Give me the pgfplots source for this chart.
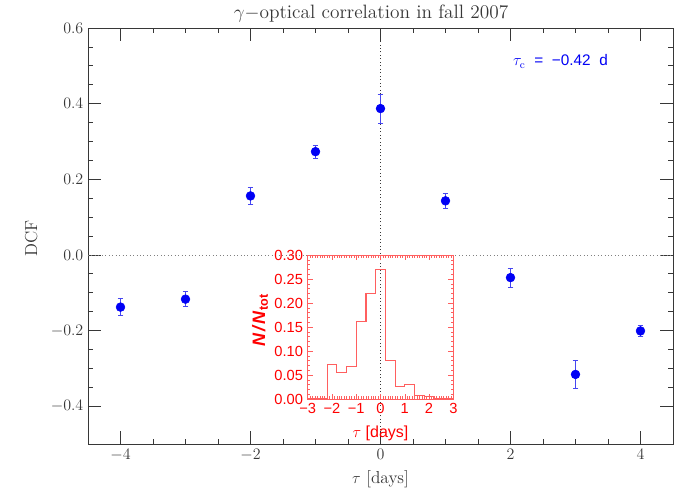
\documentclass[border=0pt]{standalone}
\usepackage{fontspec}
\setsansfont{Liberation Sans}
\usepackage{pgfplots}
\pgfplotsset{compat=1.18}
\definecolor{histred}{RGB}{255,95,95}
\definecolor{axgray}{RGB}{55,55,55}
\definecolor{ptblue}{RGB}{0,0,245}
\definecolor{errblue}{RGB}{70,70,240}
\pgfplotstableread{
x y e
-4 -0.138 0.022
-3 -0.117 0.020
-2 0.156 0.022
-1 0.273 0.017
0 0.387 0.038
1 0.143 0.019
2 -0.060 0.025
3 -0.316 0.037
4 -0.201 0.015
}\dcfdata
\begin{document}
\begin{tikzpicture}[x=1pt,y=1pt]
\path[use as bounding box] (0,0) rectangle (525,375);
\begin{axis}[
  at={(66pt,42pt)}, anchor=south west, scale only axis,
  width=438.75pt, height=312pt,
  xmin=-4.5, xmax=4.5, ymin=-0.5, ymax=0.6,
  xtick={-4,-2,0,2,4}, minor x tick num=3,
  ytick={-0.4,-0.2,0,0.2,0.4,0.6}, minor y tick num=3,
  major tick length=9.5pt, minor tick length=4pt,
  axis line style={axgray},
  every tick/.style={axgray, line width=0.5pt},
  yticklabel style={/pgf/number format/.cd, fixed, fixed zerofill, precision=1},
  ticklabel style={font=\fontsize{12.5}{14}\selectfont, text=axgray},
  xlabel={$\tau$ [days]},
  xlabel style={font=\fontsize{13}{15}\selectfont, text=axgray, at={(axis description cs:0.5,-0.085)}, anchor=center},
  ylabel={DCF},
  ylabel style={font=\fontsize{13}{15}\selectfont, text=axgray, at={(axis description cs:-0.097,0.495)}, anchor=center},
  clip=false,
]
\addplot[gray, dotted, line width=0.6pt] coordinates {(-4.5,0) (4.5,0)};
\addplot[axgray, dotted, line width=0.6pt] coordinates {(0,-0.5) (0,0.6)};
\addplot[only marks, mark=*, mark size=3.3pt, color=ptblue,
  error bars/.cd, y dir=both, y explicit,
  error bar style={errblue, line width=0.6pt},
  error mark options={rotate=90, mark size=2.2pt, errblue, line width=0.6pt}]
  table[x=x, y=y, y error=e] {\dcfdata};
\node[text=ptblue, font=\sffamily\fontsize{11.5}{13}\selectfont, anchor=center] at (axis cs:2.77,0.511) {$\tau_{\mathrm c}$\hspace{6.5pt}=\hspace{6.5pt}−0.42\hspace{6.5pt}d};
\node[text=axgray, font=\fontsize{14.5}{17}\selectfont, anchor=base, yshift=7.5pt] at (axis description cs:0.484,1) {$\gamma-$optical correlation in fall 2007};
\end{axis}
\begin{axis}[
  at={(230.8pt,75.75pt)}, anchor=south west, scale only axis,
  width=109.2pt, height=108pt,
  xmin=-3, xmax=3, ymin=0, ymax=0.30,
  xtick={-3,-2,-1,0,1,2,3}, xticklabels={−3,−2,−1,0,1,2,3},
  ytick={0,0.05,0.10,0.15,0.20,0.25,0.30},
  yticklabels={0.00,0.05,0.10,0.15,0.20,0.25,0.30},
  minor x tick num=9, minor y tick num=4,
  major tick length=4pt, minor tick length=2pt,
  axis line style={histred},
  every tick/.style={histred, line width=0.4pt},
  ticklabel style={font=\sffamily\fontsize{11}{13}\selectfont, text=red},
  xlabel={$\tau$ [days]},
  xlabel style={font=\sffamily\fontsize{12}{14}\selectfont, text=red, at={(axis description cs:0.5,-0.236)}, anchor=center},
  ylabel={\bfseries\itshape N\kern1.5pt/\kern1.5pt N\kern0.5pt\textsubscript{\upshape tot}},
  ylabel style={font=\sffamily\fontsize{13.5}{15}\selectfont, text=red, at={(axis description cs:-0.328,0.55)}, anchor=center},
  clip=false,
]
\addplot[histred, const plot mark left, line width=0.8pt] coordinates {
(-3,0) (-2.2,0.072) (-1.8,0.055) (-1.4,0.0675) (-1.0,0.161) (-0.6,0.219) (-0.2,0.269) (0.2,0.081) (0.6,0.026) (1.0,0.031) (1.4,0.007) (1.8,0.005) (2.2,0) (3,0)};
\end{axis}
\end{tikzpicture}
\end{document}
